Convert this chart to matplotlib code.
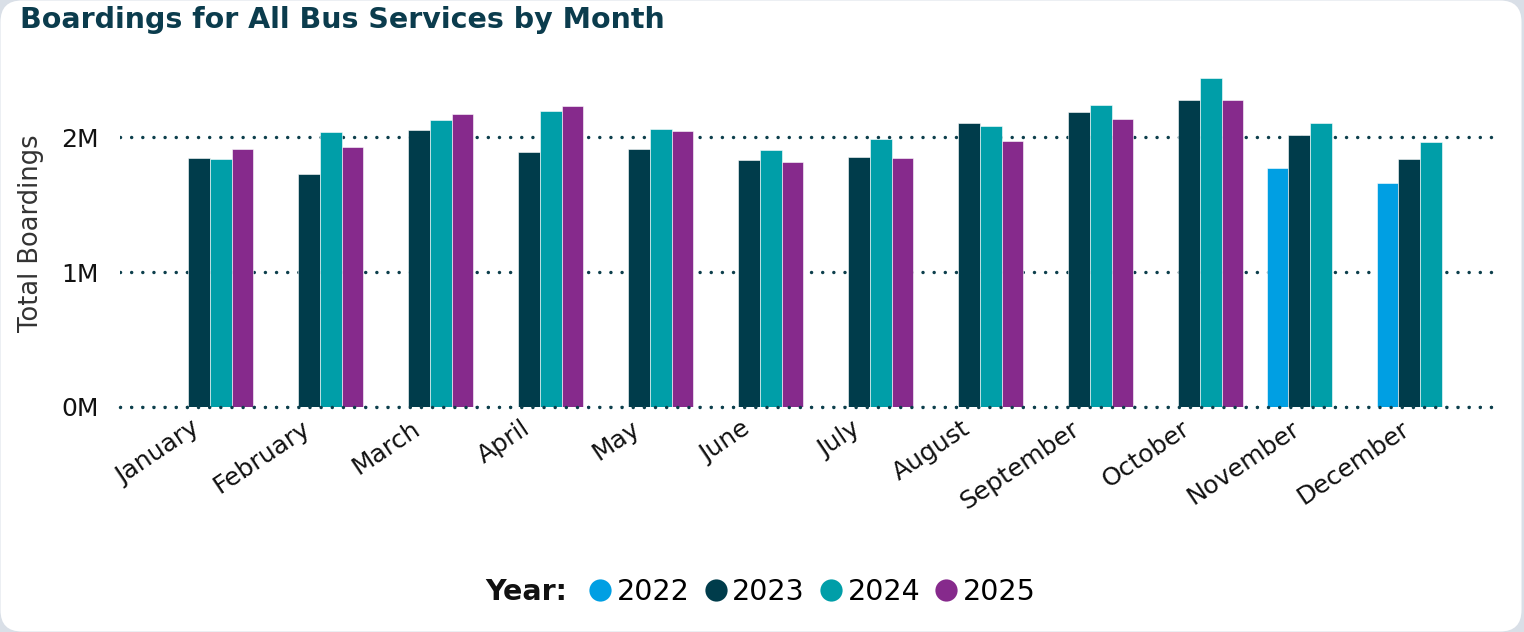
import matplotlib
matplotlib.use('Agg')
import matplotlib.pyplot as plt
import matplotlib.patches as patches
import matplotlib.transforms as mtransforms
from matplotlib.lines import Line2D
import numpy as np

# Data (millions of boardings)
months = ['January', 'February', 'March', 'April', 'May', 'June',
          'July', 'August', 'September', 'October', 'November', 'December']
years = ['2022', '2023', '2024', '2025']
colors = ['#009fe3', '#003c4b', '#009ea8', '#862a8c']

b2022 = [None, None, None, None, None, None, None, None, None, None, 1.774, 1.658]
b2023 = [1.849, 1.730, 2.053, 1.891, 1.915, 1.834, 1.856, 2.106, 2.186, 2.275, 2.019, 1.839]
b2024 = [1.837, 2.039, 2.128, 2.196, 2.062, 1.906, 1.987, 2.084, 2.240, 2.438, 2.106, 1.965]
b2025 = [1.911, 1.926, 2.173, 2.230, 2.045, 1.817, 1.844, 1.973, 2.138, 2.275, None, None]
series = [b2022, b2023, b2024, b2025]

W, H = 1524, 632
fig = plt.figure(figsize=(W / 100, H / 100), dpi=100)
fig.patch.set_facecolor('#d9dfe7')

# white rounded card behind everything
card = patches.FancyBboxPatch((0.5 / W, 0.5 / H), 1521 / W, 631 / H,
                              boxstyle='round,pad=0,rounding_size=0.014',
                              transform=fig.transFigure, facecolor='white',
                              edgecolor='none', zorder=-10,
                              mutation_aspect=W / H)
fig.patches.append(card)

ax = fig.add_axes([120 / W, (H - 406.7) / H, 1380 / W, 346.7 / H])
ax.set_facecolor('none')
ax.set_zorder(1)

x = np.arange(len(months))
bw = 0.197
for i, (yr, vals, c) in enumerate(zip(years, series, colors)):
    xs = [xi + (i - 1.5) * bw for xi, v in zip(x, vals) if v is not None]
    hs = [v * 1e6 for v in vals if v is not None]
    ax.bar(xs, hs, width=bw, color=c, edgecolor='white', linewidth=0.4, zorder=2)

ax.set_xlim(-0.818, 11.727)
ax.set_ylim(0, 2.574e6)
ax.set_yticks([0, 1e6, 2e6])
ax.set_yticklabels(['0M', '1M', '2M'])

dotted = (0, (0.01, 3.2))
grid_color = '#0d3f4c'
ax.yaxis.grid(True, color=grid_color, linewidth=2.5, linestyle=dotted,
              dash_capstyle='round', zorder=1)
ax.set_axisbelow(True)
ax.axhline(0, color=grid_color, linewidth=2.5, linestyle=dotted,
           dash_capstyle='round', zorder=3, clip_on=False)

for s in ax.spines.values():
    s.set_visible(False)

ax.set_xticks(x)
ax.set_xticklabels(months, rotation=34, ha='right', va='top',
                   rotation_mode='anchor', fontsize=18, color='#111111')
ax.tick_params(axis='x', length=0, pad=7)
ax.tick_params(axis='y', length=0, pad=15, labelsize=18, labelcolor='#111111')

# nudge the month labels to the left, as in the original
shift = mtransforms.ScaledTranslation(-19 / 100, 0, fig.dpi_scale_trans)
for lab in ax.get_xticklabels():
    lab.set_transform(lab.get_transform() + shift)

ax.set_ylabel('Total Boardings', fontsize=18.5, color='#333333')
ax.yaxis.set_label_coords(-0.055, 0.5)

fig.text(20 / W, 1 - 20 / H, 'Boardings for All Bus Services by Month',
         fontsize=20.5, fontweight='bold', color='#0b3c4d', ha='left', va='center')

# legend
fig.text(485 / W, 1 - 592 / H, 'Year:', fontsize=20.5, fontweight='bold',
         color='#111111', ha='left', va='center')
handles = [Line2D([], [], marker='o', linestyle='none', markersize=16,
                  markerfacecolor=c, markeredgecolor='none') for c in colors]
fig.legend(handles, years, loc='center left', bbox_to_anchor=(588 / W, 1 - 592 / H),
           ncol=4, frameon=False, fontsize=20.5, handlelength=0.85,
           handletextpad=0.15, columnspacing=0.5, borderpad=0, borderaxespad=0)

fig.savefig('out.png', dpi=100, facecolor=fig.get_facecolor())
